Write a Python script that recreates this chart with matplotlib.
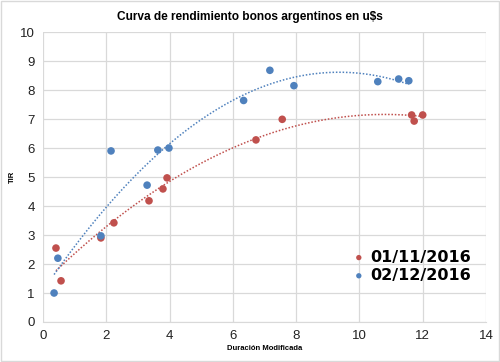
import matplotlib.pyplot as plt
import numpy as np

# datos
dur_nov = [0.41, 0.57, 1.83, 2.24, 3.35, 3.79, 3.92, 6.73, 7.56, 11.65, 11.73, 12.0]
tir_nov = [2.55, 1.42, 2.9, 3.42, 4.18, 4.59, 4.97, 6.28, 6.99, 7.14, 6.93, 7.14]
dur_dic = [0.35, 0.47, 1.83, 2.15, 3.29, 3.63, 3.98, 6.34, 7.17, 7.93, 10.58, 11.24, 11.56]
tir_dic = [1.0, 2.2, 2.97, 5.9, 4.72, 5.93, 6.0, 7.64, 8.68, 8.15, 8.29, 8.38, 8.32]
labels = ['01/11/2016', '02/12/2016']

red = '#C0504D'
blue = '#4F81BD'

plt.rcParams['font.family'] = ['Liberation Sans', 'DejaVu Sans']

fig = plt.figure(figsize=(5.0, 3.62), dpi=100)
ax = fig.add_axes([0.086, 0.1105, 0.886, 0.801])

for x, y, c, lab in [(dur_nov, tir_nov, red, labels[0]), (dur_dic, tir_dic, blue, labels[1])]:
    x = np.array(x)
    y = np.array(y)
    # tendencia polinomica de orden 2 (como en excel)
    p = np.polyfit(x, y, 2)
    xs = np.linspace(x.min(), x.max(), 200)
    ax.plot(xs, np.polyval(p, xs), ls=(0, (1, 1.2)), color=c, lw=1.1, zorder=2)
    ax.scatter(x, y, s=30, color=c, zorder=3, label=lab, edgecolors='none')

ax.set_xlim(0, 14)
ax.set_ylim(0, 10)
ax.set_xticks(range(0, 15, 2))
ax.set_yticks(range(0, 11))
ax.grid(True, color='#D9D9D9', lw=0.9)
ax.set_axisbelow(True)
for s in ax.spines.values():
    s.set_visible(False)
ax.spines['bottom'].set_visible(True)
ax.spines['bottom'].set_color('#D9D9D9')
ax.tick_params(length=0, labelsize=9.5, colors='#222222', pad=6)

ax.set_xlabel('Duración Modificada', fontsize=5.5, fontweight='bold', labelpad=2)
ax.set_ylabel('TIR', fontsize=5.5, fontweight='bold', labelpad=3)
fig.suptitle('Curva de rendimiento bonos argentinos en u$s', fontsize=8.6, fontweight='bold',
             x=0.5, y=0.97)

leg = ax.legend(loc='lower right', bbox_to_anchor=(0.998, 0.085), frameon=False,
                prop={'family': 'DejaVu Sans', 'size': 11.5, 'weight': 'bold'},
                handletextpad=0.2, labelspacing=0.2, markerscale=0.7, handlelength=1.0)

fig.patches.append(plt.Rectangle((0.002, 0.003), 0.996, 0.994, transform=fig.transFigure,
                                 fill=False, edgecolor='#D9D9D9', lw=1))

fig.savefig('out.png', dpi=100)
